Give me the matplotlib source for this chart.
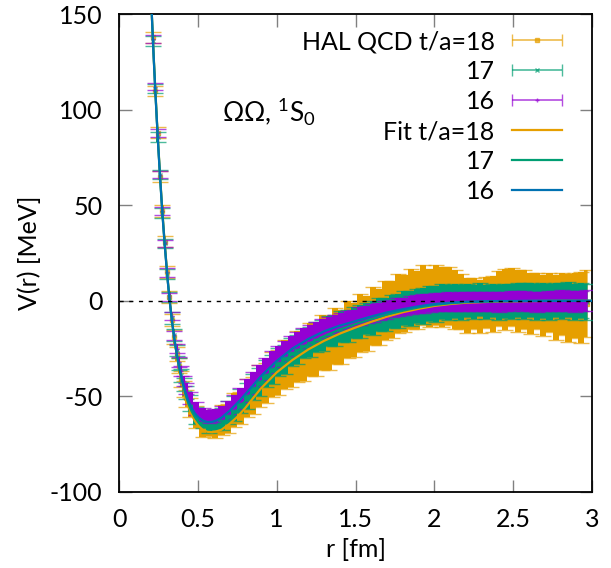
import numpy as np
import matplotlib as mpl
mpl.use('Agg')
import matplotlib.pyplot as plt
from matplotlib.container import ErrorbarContainer
from matplotlib.legend_handler import HandlerErrorbar

mpl.rcParams.update({'font.family': ['Lato', 'DejaVu Sans'], 'font.size': 18,
                     'mathtext.fontset': 'custom', 'mathtext.rm': 'Lato',
                     'mathtext.default': 'regular', 'axes.unicode_minus': False})

C18 = '#E69F00'; C17 = '#009E73'; C16 = '#9400D3'; CFIT16 = '#0072B2'

# lattice data, r [fm]
r_data = [0.215, 0.23, 0.245, 0.26, 0.275, 0.29, 0.305, 0.32, 0.335, 0.35, 0.365, 0.38, 0.395, 0.41, 0.425,
          0.45, 0.49, 0.53, 0.57, 0.61, 0.65, 0.69, 0.73, 0.77, 0.81,
          0.85, 0.89, 0.93, 0.97, 1.01, 1.05, 1.09, 1.13, 1.17, 1.21,
          1.25, 1.29, 1.33, 1.37, 1.41, 1.45, 1.49, 1.53, 1.57, 1.61,
          1.65, 1.69, 1.73, 1.77, 1.81, 1.85, 1.89, 1.93, 1.97, 2.01,
          2.05, 2.09, 2.13, 2.17, 2.21, 2.25, 2.29, 2.33, 2.37, 2.41,
          2.45, 2.49, 2.53, 2.57, 2.61, 2.65, 2.69, 2.73, 2.77, 2.81,
          2.85, 2.89, 2.93, 2.97]

v18 = [138, 110, 88, 65, 47, 31, 15, 2, -10, -19, -28, -34, -41, -46, -51,
       -56, -61, -65.5, -64, -65.5, -62.5, -61.5, -57, -56, -51,
       -49.5, -44.5, -43, -38.5, -37.5, -33.5, -33, -29, -29, -25.5,
       -26, -22, -22.5, -18.5, -19, -15, -15.5, -11.5, -12, -8,
       -8.5, -5, -4.5, -1.5, -1.5, 1.0, 0.5, 3.0, 1.5, 3.0,
       2.0, 2.5, 0.5, -0.5, -2.5, -1.5, -3.0, -1.0, -1.5, 1.0,
       0.5, 2.0, 0.0, 0.5, -1.5, 0.0, -2.5, -1.0, -3.5, -1.5,
       -4.0, -2.5, -3.5, -1.5]
e18 = [2.8, 2.6, 3.0, 2.7, 3.1, 2.9, 3.2, 3.0, 3.3, 3.5, 3.6, 3.8, 4.0, 4.2, 4.5,
       5.0, 5.8, 5.6, 6.8, 6.6, 7.9, 7.6, 8.9, 8.4, 9.9,
       9.6, 11.0, 10.4, 11.9, 11.6, 12.8, 12.2, 13.4, 12.9, 13.9,
       13.2, 14.3, 13.6, 14.6, 14.0, 14.9, 14.1, 15.1, 14.4, 15.3,
       14.6, 15.4, 14.9, 15.6, 15.0, 15.6, 15.1, 15.8, 15.2, 15.7,
       15.6, 15.2, 15.4, 14.3, 14.6, 13.2, 14.0, 13.3, 14.6, 14.4,
       15.9, 15.3, 16.2, 15.4, 15.8, 14.8, 15.9, 15.4, 16.8, 16.2,
       17.8, 17.0, 18.6, 17.5]

v17 = [136, 111, 86, 66, 46, 30, 14, 2, -9, -18, -26, -33, -39, -44, -48,
       -53.5, -60, -62, -64, -62.5, -62, -58.5, -56.5, -52.5, -50,
       -45, -42.5, -38, -36, -32, -30.5, -27, -25.5, -22.5, -21.5,
       -19, -18.3, -16, -15.5, -13.5, -13, -11.2, -11, -9.2, -9,
       -7.2, -7.1, -5.4, -5.4, -3.8, -3.9, -2.5, -2.7, -1.4, -1.7,
       -0.5, -1.0, 0.0, -0.7, 0.2, -0.5, 0.5, -0.4, 0.1, -0.9,
       0.0, -0.5, 0.6, -0.1, 0.5, -0.5, 0.1, -0.6, 0.4, -0.2,
       0.5, -0.5, 0.1, -0.6]
e17 = [2.5, 2.3, 2.6, 2.4, 2.7, 2.5, 2.8, 2.6, 2.9, 3.0, 3.1, 3.2, 3.3, 3.4, 3.6,
       4.0, 4.6, 4.7, 5.3, 5.3, 5.9, 5.9, 6.4, 6.3, 6.8,
       6.7, 7.2, 7.0, 7.4, 7.2, 7.6, 7.4, 7.8, 7.6, 8.0,
       7.8, 8.2, 7.9, 8.3, 8.1, 8.4, 8.2, 8.6, 8.3, 8.7,
       8.4, 8.8, 8.6, 9.0, 8.8, 9.2, 8.9, 9.3, 9.0, 9.4,
       9.1, 9.3, 8.9, 9.1, 8.7, 9.0, 8.6, 8.9, 8.7, 9.0,
       8.8, 9.1, 8.9, 9.2, 8.9, 9.3, 9.0, 9.3, 9.1, 9.4,
       9.1, 9.5, 9.2, 9.6]

v16 = [137, 112, 88, 66, 47, 30, 15, 2, -8, -18, -25, -32, -37, -42, -46,
       -51, -56.5, -59.5, -60.5, -60, -58.5, -56, -53, -49.5, -45,
       -41, -37.5, -34, -30.5, -27.5, -25, -22.5, -20.3, -18.5, -16.8,
       -15.3, -14, -12.8, -11.8, -10.8, -9.8, -9, -8, -7.2, -6.3,
       -5.5, -4.8, -4, -3.4, -2.8, -2.3, -1.8, -1.4, -1.0, -0.7,
       -0.5, -0.4, -0.5, -0.6, -0.5, -0.3, -0.2, -0.4, -0.6, -0.5,
       -0.2, 0.1, 0.2, 0.0, -0.3, -0.5, -0.4, -0.2, 0.0, 0.1,
       -0.1, -0.3, -0.2, 0.0]
e16 = [2.0, 1.8, 2.2, 1.9, 2.1, 2.0, 2.3, 2.0, 2.2, 2.4, 2.3, 2.5, 2.6, 2.7, 2.8,
       3.0, 3.3, 3.2, 3.5, 3.4, 3.6, 3.5, 3.7, 3.6, 3.9,
       3.7, 4.0, 3.8, 4.1, 3.9, 4.1, 4.0, 4.2, 4.0, 4.3,
       4.1, 4.3, 4.2, 4.4, 4.2, 4.4, 4.3, 4.5, 4.3, 4.6,
       4.4, 4.6, 4.5, 4.7, 4.5, 4.8, 4.6, 4.8, 4.7, 4.9,
       4.7, 5.0, 4.8, 5.0, 4.9, 5.1, 4.9, 5.1, 5.0, 5.2,
       5.0, 5.2, 5.1, 5.3, 5.1, 5.3, 5.2, 5.4, 5.2, 5.4,
       5.3, 5.5, 5.3, 5.5]

# fit curves
r_fit = [0.19, 0.20, 0.21, 0.22, 0.23, 0.24, 0.25, 0.26, 0.27, 0.28,
         0.29, 0.30, 0.31, 0.32, 0.33, 0.34, 0.35, 0.36, 0.38, 0.40,
         0.42, 0.44, 0.46, 0.48, 0.50, 0.53, 0.56, 0.59, 0.62, 0.65,
         0.70, 0.75, 0.80, 0.85, 0.90, 1.00, 1.10, 1.20, 1.30, 1.40,
         1.50, 1.60, 1.70, 1.80, 1.90, 2.00, 2.10, 2.20, 2.40, 2.60,
         2.80, 3.00]
fit18 = [185, 165, 146, 128, 111, 95, 80, 66, 53, 41,
         30, 20, 10, 1.5, -6, -13, -19.5, -25, -35, -43,
         -50, -55.5, -59.5, -62.8, -65.2, -67.5, -68.6, -68.8, -68.3, -67.5,
         -64.5, -60.8, -56.2, -51.0, -45.9, -37.5, -31.0, -25.5, -21.0, -17.2,
         -14.0, -11.0, -8.3, -6.0, -4.2, -2.7, -1.7, -1.0, -0.4, -0.15,
         -0.05, 0.0]
fit17 = [185, 165, 146, 127.5, 110.5, 94.5, 79.5, 65.5, 52.5, 40.5,
         29.5, 19.5, 9.8, 1.2, -6.3, -13.1, -19.4, -24.9, -34.5, -42.2,
         -48.7, -53.9, -57.8, -60.8, -63.0, -65.0, -66.0, -66.1, -65.4, -64.2,
         -61.2, -57.2, -52.5, -47.6, -42.6, -34.4, -27.9, -22.7, -18.5, -15.0,
         -12.2, -9.6, -7.2, -5.2, -3.5, -2.2, -1.3, -0.7, -0.25, -0.1,
         0.0, 0.0]
fit16 = [185, 165, 146, 127, 110, 94, 79, 65, 52, 40,
         29, 19, 9.5, 1.0, -6.5, -13.2, -19.3, -24.7, -34.0, -41.5,
         -47.5, -52.3, -56.0, -58.8, -60.8, -62.7, -63.5, -63.4, -62.6, -61.2,
         -57.7, -53.6, -49.0, -44.3, -39.5, -31.5, -25.0, -20.0, -16.0, -13.0,
         -10.6, -8.2, -6.1, -4.4, -2.9, -1.7, -1.0, -0.5, -0.15, -0.05,
         0.0, 0.0]

x_ticks = [0, 0.5, 1, 1.5, 2, 2.5, 3]
x_labels = ['0', '0.5', '1', '1.5', '2', '2.5', '3']
y_ticks = [-100, -50, 0, 50, 100, 150]

fig = plt.figure(figsize=(6.11, 5.68), dpi=100, facecolor='white')
ax = fig.add_axes([0.1948, 0.1342, 0.7741, 0.8406])

r = np.array(r_data)
series = [(v18, e18, C18, 's', 2), (v17, e17, C17, 'x', 3), (v16, e16, C16, '+', 4)]
for v, e, c, m, z in series:
    v = np.array(v); e = np.array(e)
    # dense error bars merge into a band in the original; fill between bar ends
    ax.fill_between(r, v - e, v + e, step='mid', color=c, lw=0, zorder=z)
    ax.errorbar(r, v, yerr=e, fmt=m, ms=2.5, mew=1, color=c, ecolor=c,
                elinewidth=1.2, capsize=5.5, capthick=1.3, alpha=0.7, zorder=z)

# legend proxies (gnuplot style horizontal error bar samples)
labels_data = ['HAL QCD t/a=18', '17', '16']
proxies = []
for (v, e, c, m, z), lab in zip(series, labels_data):
    proxies.append(ax.errorbar([np.nan], [np.nan], xerr=[1.0], fmt=m, ms=2.5, mew=1,
                               color=c, ecolor=c, elinewidth=1.2, capsize=4.5,
                               capthick=1.2, alpha=0.7))

l18, = ax.plot(r_fit, fit18, color=C18, lw=1.6, zorder=5)
l17, = ax.plot(r_fit, fit17, color=C17, lw=1.6, zorder=6)
l16, = ax.plot(r_fit, fit16, color=CFIT16, lw=1.6, zorder=7)

ax.axhline(0, color='black', ls=(0, (3, 4)), lw=1.0, zorder=8)

ax.text(0.65, 99, 'ΩΩ, $^1$S$_0$', ha='left', va='center', fontsize=19, zorder=9)

ax.legend(handles=proxies + [l18, l17, l16],
          labels=labels_data + ['Fit t/a=18', '17', '16'],
          loc='upper right', bbox_to_anchor=(0.937, 0.967), frameon=False,
          markerfirst=False, handlelength=2.0, handletextpad=0.7,
          labelspacing=0.28, borderpad=0, borderaxespad=0, fontsize=18,
          handler_map={ErrorbarContainer: HandlerErrorbar(xerr_size=1.0)})

ax.set_xlim(0, 3); ax.set_ylim(-100, 150)
ax.set_xticks(x_ticks, x_labels)
ax.set_yticks(y_ticks, [str(t) for t in y_ticks])
ax.tick_params(direction='in', top=True, right=True, length=9, width=1,
               color='#808080', labelsize=18, pad=12)
for s in ax.spines.values():
    s.set_linewidth(1.3)
ax.set_xlabel('r [fm]', fontsize=18, labelpad=5)
ax.set_ylabel('V(r) [MeV]', fontsize=18, labelpad=6)

fig.savefig('out.png', dpi=100, facecolor='white')
